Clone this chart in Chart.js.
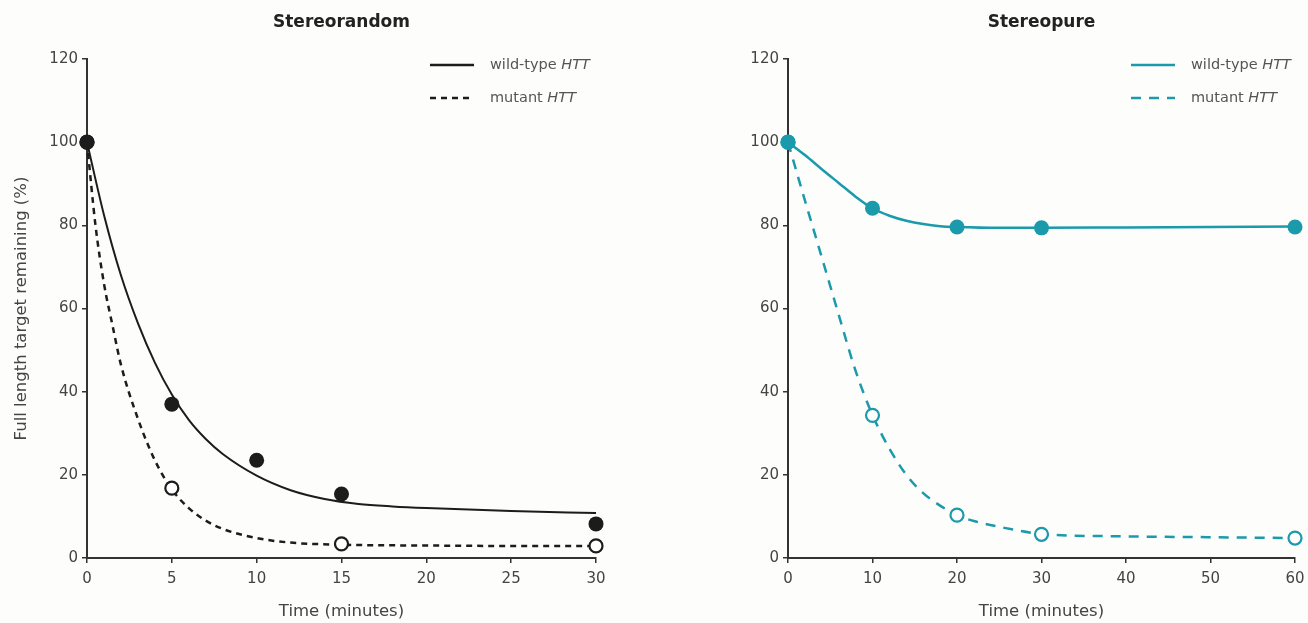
<!DOCTYPE html>
<html lang="en">
<head>
  <meta charset="UTF-8" />
  <title>Stereorandom vs Stereopure</title>
  <script src="https://cdn.jsdelivr.net/npm/chart.js"></script>
  <style>
    body { margin: 0; background: #fdfdfc; }
    .panel { position: absolute; top: 0; width: 654px; height: 623px; }
    #leftPanel { left: 0; }
    #rightPanel { left: 654px; }
  </style>
</head>
<body>
  <div class="panel" id="leftPanel"><canvas id="chartLeft" width="654" height="623"></canvas></div>
  <div class="panel" id="rightPanel"><canvas id="chartRight" width="654" height="623"></canvas></div>

  <script>
    // --- data ---
    const yTicks = [0, 20, 40, 60, 80, 100, 120];

    // Stereorandom (left)
    const leftTimes = [0, 5, 10, 15, 30];
    const leftWild = [100, 37, 23.5, 15.4, 8.2];
    const leftMutantTimes = [0, 5, 15, 30];
    const leftMutant = [100, 16.8, 3.4, 2.9];
    const leftWildFitTimes = [0, 1, 2, 3, 4, 5, 6, 7, 8, 10, 12, 14, 16, 18, 20, 25, 30];
    const leftWildFit = [100, 82.5, 68, 56.5, 47, 39.3, 33.2, 28.6, 25, 19.8, 16.3, 14.2, 13, 12.4, 12, 11.3, 10.8];
    const leftMutantFitTimes = [0, 0.5, 1, 1.5, 2, 3, 4, 5, 6, 7, 8, 10, 12, 15, 20, 25, 30];
    const leftMutantFit = [100, 80, 66, 56, 46.5, 33.5, 23.5, 16.5, 12, 9, 7, 4.8, 3.7, 3.2, 3, 2.9, 2.9];

    // Stereopure (right)
    const rightTimes = [0, 10, 20, 30, 60];
    const rightWild = [100, 84.1, 79.6, 79.4, 79.6];
    const rightMutant = [100, 34.3, 10.3, 5.7, 4.8];
    const rightWildFitTimes = [0, 2, 4, 6, 8, 10, 12, 14, 16, 18, 20, 25, 30, 40, 50, 60];
    const rightWildFit = [100, 96.9, 93.5, 90.2, 86.9, 84.1, 82.3, 81.1, 80.3, 79.8, 79.6, 79.4, 79.4, 79.5, 79.6, 79.7];
    const rightMutantFitTimes = [0, 2, 4, 6, 8, 10, 12, 14, 16, 18, 20, 22, 25, 30, 40, 50, 60];
    const rightMutantFit = [100, 86, 72.3, 58.5, 45, 34.4, 26.3, 20, 15.6, 12.6, 10.3, 8.9, 7.5, 5.8, 5.2, 5, 4.8];

    const FONT = "'DejaVu Sans', sans-serif";
    const AXIS = '#333';
    const TEXT = '#444';

    function xy(xs, ys) {
      return xs.map((x, i) => ({ x: x, y: ys[i] }));
    }

    // legend with italic gene name, drawn next to the top right of the plot
    const htLegend = {
      id: 'htLegend',
      afterDatasetsDraw(chart, args, opts) {
        const ctx = chart.ctx;
        const a = chart.chartArea;
        const rows = [
          { y: a.top + 6, dash: [] },
          { y: a.top + 39, dash: opts.dash }
        ];
        const names = ['wild-type ', 'mutant '];
        ctx.save();
        rows.forEach((r, i) => {
          ctx.strokeStyle = opts.color;
          ctx.lineWidth = 2.5;
          ctx.setLineDash(r.dash);
          ctx.beginPath();
          ctx.moveTo(a.left + 343, r.y);
          ctx.lineTo(a.left + 387, r.y);
          ctx.stroke();
          ctx.setLineDash([]);
          ctx.fillStyle = '#555';
          ctx.textBaseline = 'middle';
          ctx.font = '14.5px ' + FONT;
          const tx = a.left + 403;
          ctx.fillText(names[i], tx, r.y);
          const w = ctx.measureText(names[i]).width;
          ctx.font = 'italic 14.5px ' + FONT;
          ctx.fillText('HTT', tx + w, r.y);
        });
        ctx.restore();
      }
    };

    function makeChart(id, cfg) {
      const c = cfg.color;
      return new Chart(document.getElementById(id), {
        type: 'scatter',
        data: {
          datasets: [
            { data: xy(cfg.times, cfg.wild), showLine: false, pointRadius: 7.5, pointBackgroundColor: c, pointBorderColor: c, pointBorderWidth: 0, clip: false },
            { data: xy(cfg.mutTimes, cfg.mutant), showLine: false, pointRadius: cfg.openR, pointBackgroundColor: '#fff', pointBorderColor: c, pointBorderWidth: 2.2, clip: false },
            { data: xy(cfg.wildFitTimes, cfg.wildFit), showLine: true, pointRadius: 0, borderColor: c, borderWidth: cfg.lineW, cubicInterpolationMode: 'monotone', clip: false },
            { data: xy(cfg.mutFitTimes, cfg.mutFit), showLine: true, pointRadius: 0, borderColor: c, borderWidth: 2.5, borderDash: cfg.dash, cubicInterpolationMode: 'monotone', clip: false }
          ]
        },
        options: {
          responsive: false,
          animation: false,
          devicePixelRatio: 1,
          layout: { padding: { left: 0, right: cfg.padRight, top: 0, bottom: 0 } },
          plugins: {
            legend: { display: false },
            tooltip: { enabled: false },
            title: {
              display: true,
              text: cfg.title,
              fullSize: false,
              color: '#222',
              font: { family: FONT, size: 17, weight: 'bold' },
              padding: { top: 12, bottom: 26.6 }
            },
            htLegend: { color: c, dash: cfg.dash }
          },
          scales: {
            x: {
              type: 'linear',
              min: 0,
              max: cfg.xMax,
              afterBuildTicks: s => { s.ticks = cfg.xTicks.map(v => ({ value: v })); },
              afterFit: s => { s.height = 65; s.paddingLeft = 0; s.paddingRight = 0; },
              grid: { drawOnChartArea: false, drawTicks: true, tickLength: 5, color: AXIS, lineWidth: 1.5 },
              border: { color: AXIS, width: 2 },
              ticks: { color: TEXT, font: { family: FONT, size: 15 }, padding: 7, maxRotation: 0 },
              title: { display: true, text: 'Time (minutes)', color: TEXT, font: { family: FONT, size: 16.5 }, padding: { top: 0, bottom: 1 } }
            },
            y: {
              min: 0,
              max: 120,
              afterBuildTicks: s => { s.ticks = yTicks.map(v => ({ value: v })); },
              afterFit: s => { s.width = cfg.yWidth; },
              grid: { drawOnChartArea: false, drawTicks: true, tickLength: 5, color: AXIS, lineWidth: 1.5 },
              border: { color: AXIS, width: 2 },
              ticks: { color: TEXT, font: { family: FONT, size: 15 }, padding: 4 },
              title: { display: cfg.yTitle !== '', text: cfg.yTitle, color: TEXT, font: { family: FONT, size: 16.5 }, padding: { top: 12, bottom: 0 } }
            }
          }
        },
        plugins: [htLegend]
      });
    }

    makeChart('chartLeft', {
      title: 'Stereorandom',
      color: '#1c1c1c',
      times: leftTimes, wild: leftWild,
      mutTimes: leftMutantTimes, mutant: leftMutant,
      wildFitTimes: leftWildFitTimes, wildFit: leftWildFit,
      mutFitTimes: leftMutantFitTimes, mutFit: leftMutantFit,
      dash: [6, 5], lineW: 2, openR: 6.5,
      xMax: 30, xTicks: [0, 5, 10, 15, 20, 25, 30],
      yWidth: 87, padRight: 58,
      yTitle: 'Full length target remaining (%)'
    });

    makeChart('chartRight', {
      title: 'Stereopure',
      color: '#1a9aaa',
      times: rightTimes, wild: rightWild,
      mutTimes: rightTimes, mutant: rightMutant,
      wildFitTimes: rightWildFitTimes, wildFit: rightWildFit,
      mutFitTimes: rightMutantFitTimes, mutFit: rightMutantFit,
      dash: [10, 8], lineW: 2.5, openR: 6.5,
      xMax: 60, xTicks: [0, 10, 20, 30, 40, 50, 60],
      yWidth: 134, padRight: 13,
      yTitle: ''
    });
  </script>
</body>
</html>
